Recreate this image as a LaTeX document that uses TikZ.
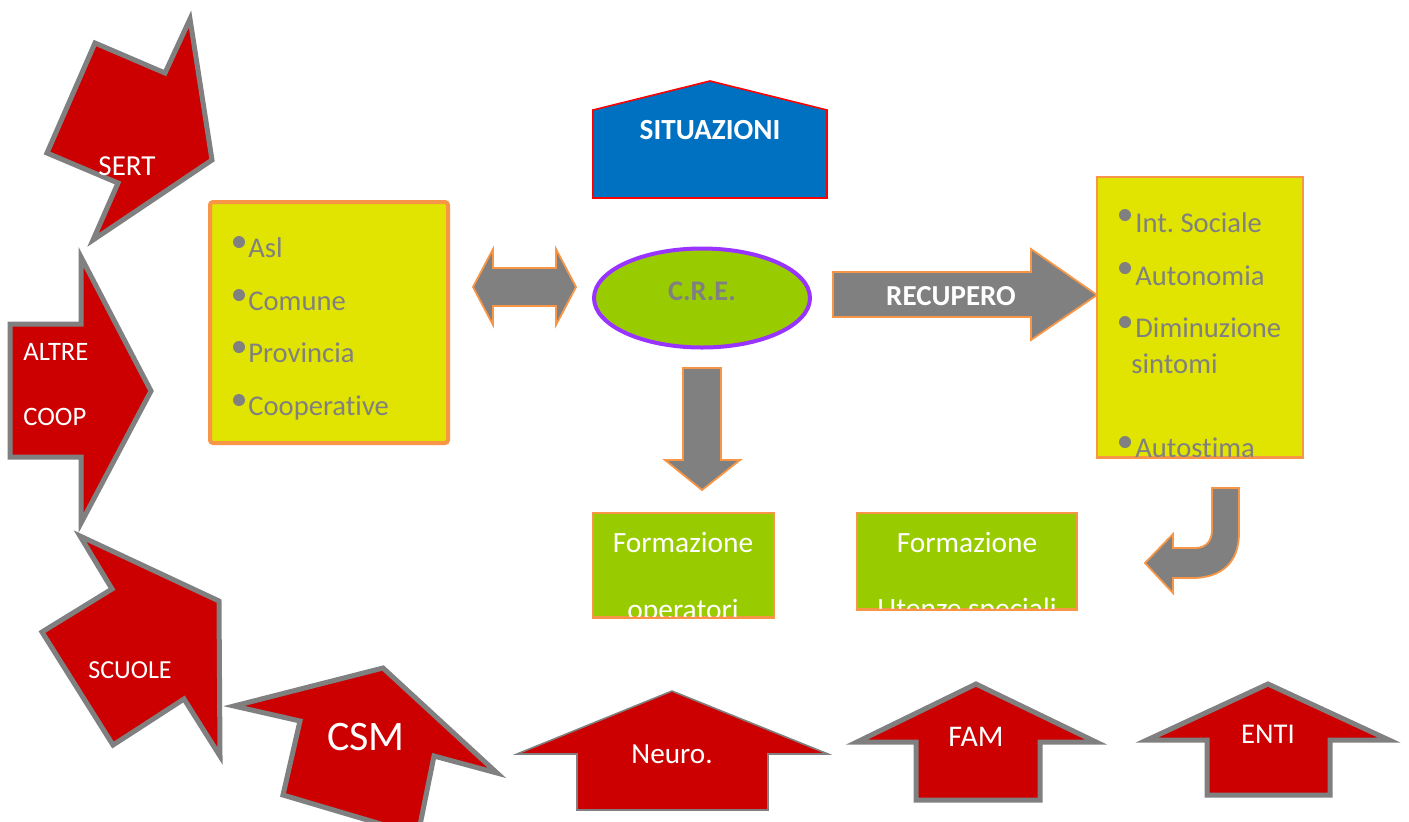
\documentclass[tikz,border=0pt]{standalone}
\usepackage{fontspec}
\setmainfont{Carlito}[Ligatures={NoCommon}]
\usetikzlibrary{shapes.geometric}
\definecolor{redA}{HTML}{CC0000}
\definecolor{grayS}{HTML}{808080}
\definecolor{orangeS}{HTML}{F79646}
\definecolor{yellowF}{HTML}{E0E400}
\definecolor{greenF}{HTML}{99CC00}
\definecolor{blueF}{HTML}{0070C0}
\definecolor{purpleS}{HTML}{9933FF}
\frenchspacing
\begin{document}
\begin{tikzpicture}[x=0.5pt,y=-0.5pt,
  redarrow/.style={fill=redA,draw=grayS,line width=2.5pt,line join=miter},
  redthin/.style={fill=redA,draw=grayS,line width=0.8pt,line join=miter},
  grayarrow/.style={fill=grayS,draw=orangeS,line width=0.9pt,line join=miter},
  wlabel/.style={text=white,inner sep=0pt,font=\fontsize{14.5}{16}\selectfont},
  glabel/.style={text=grayS,inner sep=0pt,anchor=base west,font=\fontsize{14.3}{16}\selectfont},
  flabel/.style={text=white,inner sep=0pt,anchor=base,font=\fontsize{14.7}{16}\selectfont},
  bul/.style={fill=grayS},
  ybox/.style={fill=yellowF,draw=orangeS},
  gbox/.style={fill=greenF,draw=orangeS,line width=0.8pt}
]
\useasboundingbox (0,0) rectangle (1409,821);
\clip (0,0) rectangle (1409,821);

% ---- red arrows ----
\draw[redarrow] (95,43) -- (165,73) -- (190,19) -- (212,160) -- (93,240) -- (118,183) -- (47,153) -- cycle;
\node[wlabel,anchor=base] (sert) at (127,175) {SERT};

\draw[redarrow] (10,324) -- (81,324) -- (81,257) -- (151,391) -- (81,523) -- (81,457) -- (10,457) -- cycle;
\node[wlabel,anchor=base west,font=\fontsize{13.3}{15}\selectfont] (altre) at (23,360) {ALTRE};
\node[wlabel,anchor=base west,font=\fontsize{13.3}{15}\selectfont] (coop) at (23,425) {COOP};

\draw[redarrow] (80,536) -- (219,601) -- (220,756) -- (184,699) -- (113,745) -- (42,632) -- (112,589) -- cycle;
\node[wlabel,anchor=base,font=\fontsize{13}{15}\selectfont] (scuole) at (130,678) {SCUOLE};

\draw[redarrow] (234,706) -- (383,668) -- (497,773) -- (434,756) -- (418,835) -- (283,795) -- (300,721) -- cycle;
\node[wlabel,anchor=base,font=\fontsize{21}{24}\selectfont] (csm) at (366,750) {CSM};

\draw[redthin] (517,754) -- (672,691) -- (828,754) -- (768,754) -- (768,810) -- (577,810) -- (577,754) -- cycle;
\node[wlabel,anchor=base,font=\fontsize{14.6}{16}\selectfont] (neuro) at (672,763) {Neuro.};

\draw[redarrow] (857,742) -- (976,684) -- (1096,742) -- (1040,742) -- (1040,800) -- (916,800) -- (916,742) -- cycle;
\node[wlabel,anchor=base,font=\fontsize{15}{17}\selectfont] (fam) at (976,746) {FAM};

\draw[redarrow] (1147,740) -- (1268,684) -- (1389,740) -- (1330,740) -- (1330,795) -- (1207,795) -- (1207,740) -- cycle;
\node[wlabel,anchor=base,font=\fontsize{14.3}{16}\selectfont] (enti) at (1268,743) {ENTI};

% ---- SITUAZIONI ----
\draw[fill=blueF,draw=red,line width=0.8pt] (593,110) -- (710,81) -- (827,110) -- (827,198) -- (593,198) -- cycle;
\node[flabel,font=\bfseries\fontsize{14.6}{17}\selectfont] (situazioni) at (710,139) {SITUAZIONI};

% ---- left box ----
\node[ybox,line width=2pt,rounded corners=1.5pt,minimum width=119pt,minimum height=120.5pt,inner sep=0pt] (boxL) at (329,322.5) {};
\fill[bul] (239,242) circle[radius=3pt];
\fill[bul] (239,295) circle[radius=3pt];
\fill[bul] (239,347) circle[radius=3pt];
\fill[bul] (239,400) circle[radius=3pt];
\node[glabel] (asl) at (248,257) {Asl};
\node[glabel] (comune) at (248,310) {Comune};
\node[glabel] (provincia) at (248,362) {Provincia};
\node[glabel] (coopv) at (248,415) {Cooperative};

% ---- double arrow ----
\draw[grayarrow] (473,287) -- (493,249) -- (493,268) -- (556,268) -- (556,249) -- (576,287) -- (556,325) -- (556,306) -- (493,306) -- (493,325) -- cycle;

% ---- C.R.E. ----
\node[ellipse,fill=greenF,draw=purpleS,line width=2pt,minimum width=108pt,minimum height=49.5pt,inner sep=0pt] (cre) at (702,298) {};
\node[flabel,text=grayS,font=\bfseries\fontsize{14.2}{16}\selectfont] (cretext) at (702,300) {C.R.E.};

% ---- RECUPERO ----
\draw[grayarrow] (833,272) -- (1031,272) -- (1031,249) -- (1097,295) -- (1031,340) -- (1031,317) -- (833,317) -- cycle;
\node[flabel,font=\bfseries\fontsize{14.5}{16}\selectfont] (recupero) at (951,305) {RECUPERO};

% ---- down arrow ----
\draw[grayarrow] (683,368) -- (721,368) -- (721,460) -- (740,460) -- (702,490) -- (665,460) -- (683,460) -- cycle;

% ---- right box ----
\node[ybox,line width=0.9pt,minimum width=103pt,minimum height=140pt,inner sep=0pt] (boxR) at (1200,317) {};
\begin{scope}
\clip (1097,177) rectangle (1303,457);
\fill[bul] (1125,215) circle[radius=3pt];
\fill[bul] (1125,268) circle[radius=3pt];
\fill[bul] (1125,322) circle[radius=3pt];
\fill[bul] (1125,442) circle[radius=3pt];
\node[glabel] (intsoc) at (1135,232) {Int. Sociale};
\node[glabel] (autonomia) at (1135,285) {Autonomia};
\node[glabel] (diminuzione) at (1135,337) {Diminuzione};
\node[glabel] (sintomi) at (1131,373) {sintomi};
\node[glabel] (autostima) at (1135,457) {Autostima};
\end{scope}
\draw[orangeS,line width=0.9pt] (boxR.south west) -- (boxR.south east);

% ---- formazione boxes ----
\node[gbox,minimum width=90.5pt,minimum height=52pt,inner sep=0pt] (form1) at (683.5,565) {};
\node[gbox,minimum width=110pt,minimum height=48pt,inner sep=0pt] (form2) at (967,561) {};
\begin{scope}
\clip (593,513) rectangle (774,617);
\node[flabel] (f1a) at (683,552) {Formazione};
\node[flabel] (f1b) at (683,619) {operatori};
\end{scope}
\begin{scope}
\clip (857,513) rectangle (1077,609);
\node[flabel] (f2a) at (967,552) {Formazione};
\node[flabel] (f2b) at (967,618) {Utenze speciali};
\end{scope}
\draw[orangeS,line width=0.8pt] (form1.south west) -- (form1.south east);
\draw[orangeS,line width=0.8pt] (form2.south west) -- (form2.south east);

% ---- curved arrow ----
\draw[grayarrow] (1212,488) -- (1239,488) -- (1239,533) .. controls (1239,562) and (1222,578) .. (1192,578) -- (1173,578) -- (1173,593) -- (1145,563) -- (1173,534) -- (1173,548) -- (1195,548) .. controls (1206,548) and (1212,541) .. (1212,530) -- cycle;
\end{tikzpicture}
\end{document}
